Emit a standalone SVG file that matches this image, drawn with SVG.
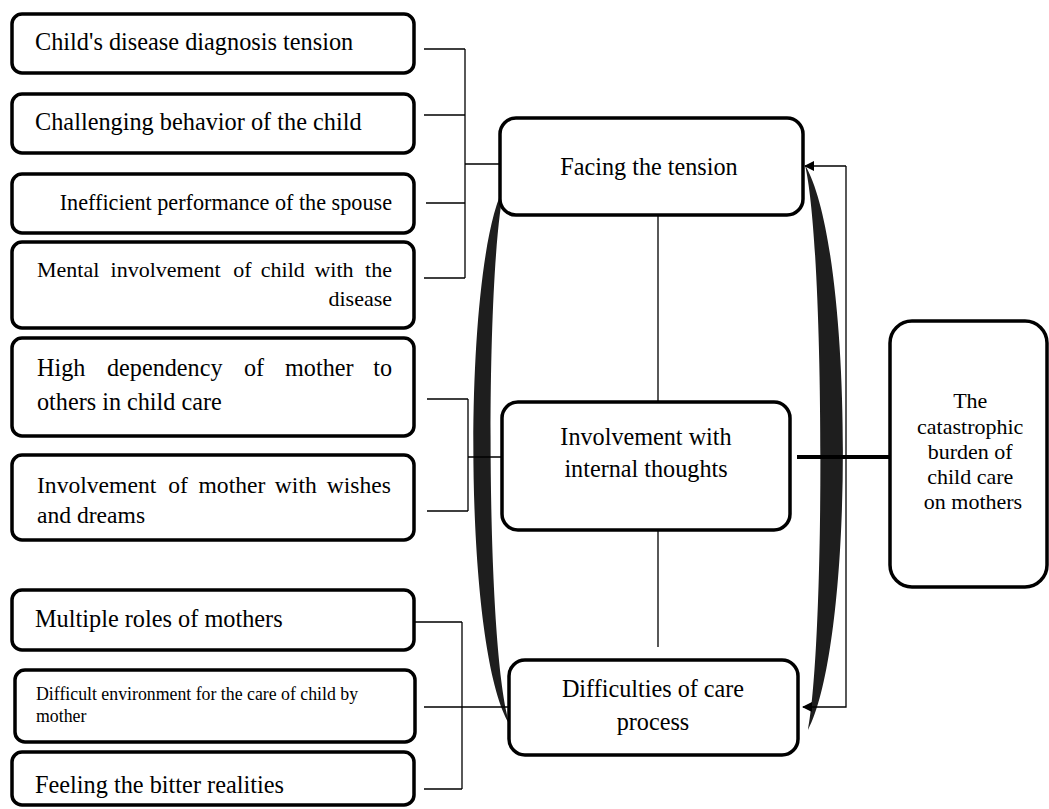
<svg xmlns="http://www.w3.org/2000/svg" width="1049" height="809" viewBox="0 0 1049 809">
<style>
.box{fill:#fff;stroke:#000;stroke-width:3.5}
.t{font-family:"Liberation Serif","Times New Roman",serif;fill:#000}
.ln{stroke:#000;stroke-width:1.3;fill:none}
.band{fill:#1e1e1e}
</style>
<defs>
<marker id="ah" viewBox="0 0 10 10" refX="9" refY="5" markerWidth="10" markerHeight="10" markerUnits="userSpaceOnUse" orient="auto">
<path d="M0,0 L10,5 L0,10 z" fill="#000"/>
</marker>
</defs>
<rect width="1049" height="809" fill="#fff"/>

<g id="bands">
<path class="band" d="M505,185 C462,260 462,650 510,725 C485,650 485,260 505,185 z"/>
<path class="band" d="M805,165 C855,250 855,640 808,730 C825,640 825,250 805,165 z"/>
</g>

<g id="connectors">
<path class="ln" d="M424,49 H465 M424,115 H465 M426,203 H465 M424,278 H465 M465,49 V278 M465,164 H500"/>
<path class="ln" d="M427,399 H468 M427,511 H468 M468,399 V511 M468,457 H502"/>
<path class="ln" d="M415,622 H462 M424,789 H462 M462,622 V789 M424,707 H509"/>
<path class="ln" d="M658,215 V402 M658,530 V647"/>
<path d="M797,457 H890" stroke="#000" stroke-width="4"/>
<path class="ln" d="M846,166 H805" marker-end="url(#ah)"/>
<path class="ln" d="M846,166 V707 H803" marker-end="url(#ah)"/>
</g>

<g id="n1"><rect class="box" x="12" y="14" width="402" height="59" rx="10"/>
<text class="t" x="35" y="50" font-size="24.3">Child's disease diagnosis tension</text></g>
<g id="n2"><rect class="box" x="12" y="94" width="402" height="59" rx="10"/>
<text class="t" x="35" y="130" font-size="24.3">Challenging behavior of the child</text></g>
<g id="n3"><rect class="box" x="12" y="174" width="402" height="59" rx="10"/>
<text class="t" x="392" y="210" font-size="22.2" text-anchor="end">Inefficient performance of the spouse</text></g>
<g id="n4"><rect class="box" x="12" y="242" width="402" height="86" rx="10"/>
<text class="t" y="277" font-size="22"><tspan x="37">Mental</tspan><tspan x="110.6">involvement</tspan><tspan x="233.2">of</tspan><tspan x="260.8">child</tspan><tspan x="314.4">with</tspan><tspan x="392" text-anchor="end">the</tspan></text>
<text class="t" x="392" y="306" font-size="22" text-anchor="end">disease</text></g>
<g id="n5"><rect class="box" x="12" y="338" width="402" height="98" rx="10"/>
<text class="t" y="376" font-size="24.2"><tspan x="37">High</tspan><tspan x="107">dependency</tspan><tspan x="244">of</tspan><tspan x="285">mother</tspan><tspan x="392" text-anchor="end">to</tspan></text>
<text class="t" x="37" y="410" font-size="24.2">others in child care</text></g>
<g id="n6"><rect class="box" x="12" y="455" width="402" height="85" rx="10"/>
<text class="t" y="493" font-size="23.6"><tspan x="37">Involvement</tspan><tspan x="168.3">of</tspan><tspan x="198.5">mother</tspan><tspan x="274.8">with</tspan><tspan x="391" text-anchor="end">wishes</tspan></text>
<text class="t" x="37" y="523" font-size="23.6">and dreams</text></g>
<g id="n7"><rect class="box" x="12" y="590" width="402" height="60" rx="10"/>
<text class="t" x="35" y="627" font-size="24.3">Multiple roles of mothers</text></g>
<g id="n8"><rect class="box" x="15" y="670" width="400" height="72" rx="10"/>
<text class="t" x="36" y="700" font-size="17.8">Difficult environment for the care of child by</text>
<text class="t" x="36" y="722" font-size="17.8">mother</text></g>
<g id="n9"><rect class="box" x="12" y="752" width="402" height="53" rx="10"/>
<text class="t" x="35" y="793" font-size="24.3">Feeling the bitter realities</text></g>

<g id="c1"><rect class="box" x="500" y="118" width="303" height="97" rx="16"/>
<text class="t" x="649" y="175" font-size="24.2" text-anchor="middle">Facing the tension</text></g>
<g id="c2"><rect class="box" x="502" y="402" width="288" height="128" rx="16"/>
<text class="t" x="646" y="445" font-size="24.2" text-anchor="middle">Involvement with</text>
<text class="t" x="646" y="477" font-size="24.2" text-anchor="middle">internal thoughts</text></g>
<g id="c3"><rect class="box" x="509" y="660" width="289" height="95" rx="16"/>
<text class="t" x="653" y="697" font-size="24.2" text-anchor="middle">Difficulties of care</text>
<text class="t" x="653" y="730" font-size="24.2" text-anchor="middle">process</text></g>

<g id="r1"><rect class="box" x="890" y="321" width="157" height="266" rx="22"/>
<text class="t" font-size="22" text-anchor="middle">
<tspan x="973" y="408">The</tspan>
<tspan x="973" y="434">catastrophic</tspan>
<tspan x="973" y="459">burden of</tspan>
<tspan x="973" y="484">child care</tspan>
<tspan x="973" y="509">on mothers</tspan>
</text></g>
</svg>
